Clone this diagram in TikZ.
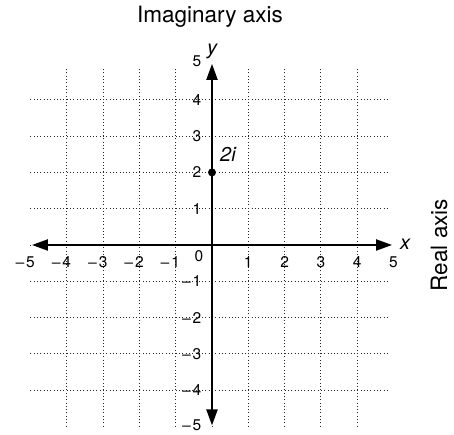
\documentclass[tikz,border=0pt]{standalone}
\usepackage{fontspec}
\usepackage{graphicx}
\setmainfont{TeX Gyre Heros}
\usetikzlibrary{arrows.meta}
\newcommand\negm{\scalebox{1.25}[1]{−}}
\begin{document}
\begin{tikzpicture}[x=36.3pt,y=36.3pt,
  gridline/.style={line width=0.9pt, dash pattern=on 0.9pt off 2.4pt, black!85},
  axisline/.style={line width=2.2pt, {Triangle[length=16pt,width=11pt]}-{Triangle[length=16pt,width=11pt]}},
  ticklab/.style={inner sep=0pt, font=\fontsize{15.5}{18}\selectfont},
  xlab/.style={ticklab, anchor=base, yshift=-23pt},
  ylab/.style={ticklab, anchor=east, xshift=-10.5pt},
  varlab/.style={inner sep=0pt, font=\fontsize{20}{24}\selectfont\itshape},
  titlelab/.style={inner sep=0pt, font=\fontsize{22.5}{27}\selectfont},
  ptdot/.style={circle, fill=black, inner sep=0pt, minimum size=8pt}]
\useasboundingbox (-212pt,-190pt) rectangle (242pt,245pt);
% grid
\foreach \i in {-4,...,4} {
  \draw[gridline] (\i,-5) -- (\i,4.9);
  \draw[gridline] (-5,\i) -- (4.9,\i);
}
% axes
\coordinate (xl) at (-4.96,0);
\coordinate (xr) at (4.96,0);
\coordinate (yb) at (0,-4.97);
\coordinate (yt) at (0,4.99);
\draw[axisline] (xl) -- (xr);
\draw[axisline] (yb) -- (yt);
% x tick labels
\foreach \i in {1,...,5} {
  \node[xlab] (xn\i) at (-\i,0) {\llap{\negm\hspace{0.6pt}}\i};
  \node[xlab] (xp\i) at (\i,0) {\i};
}
\node[ticklab, anchor=base] (zero) at (-13pt,-17pt) {0};
% y tick labels
\foreach \i in {1,...,4} {
  \node[ylab] (yp\i) at (0,\i) {\i};
  \node[ylab] (yn\i) at (0,-\i) {\negm\hspace{0.6pt}\i};
}
\node[ylab] (yp5) at (0,5.06) {5};
\node[ylab] (yn5) at (0,-4.97) {\negm\hspace{0.6pt}5};
% point
\node[ptdot] (p) at (0,2) {};
\node[varlab, anchor=base west] (plab) at (8pt,83pt) {2i};
% axis variable labels
\node[varlab, anchor=west] (xlabel) at (188pt,1pt) {x};
\node[varlab, anchor=base] (ylabel) at (0pt,190pt) {y};
% titles
\node[titlelab, anchor=base] (imag) at (-2pt,222pt) {Imaginary axis};
\node[titlelab, anchor=base, rotate=90] (real) at (235pt,0pt) {Real axis};
\end{tikzpicture}
\end{document}
